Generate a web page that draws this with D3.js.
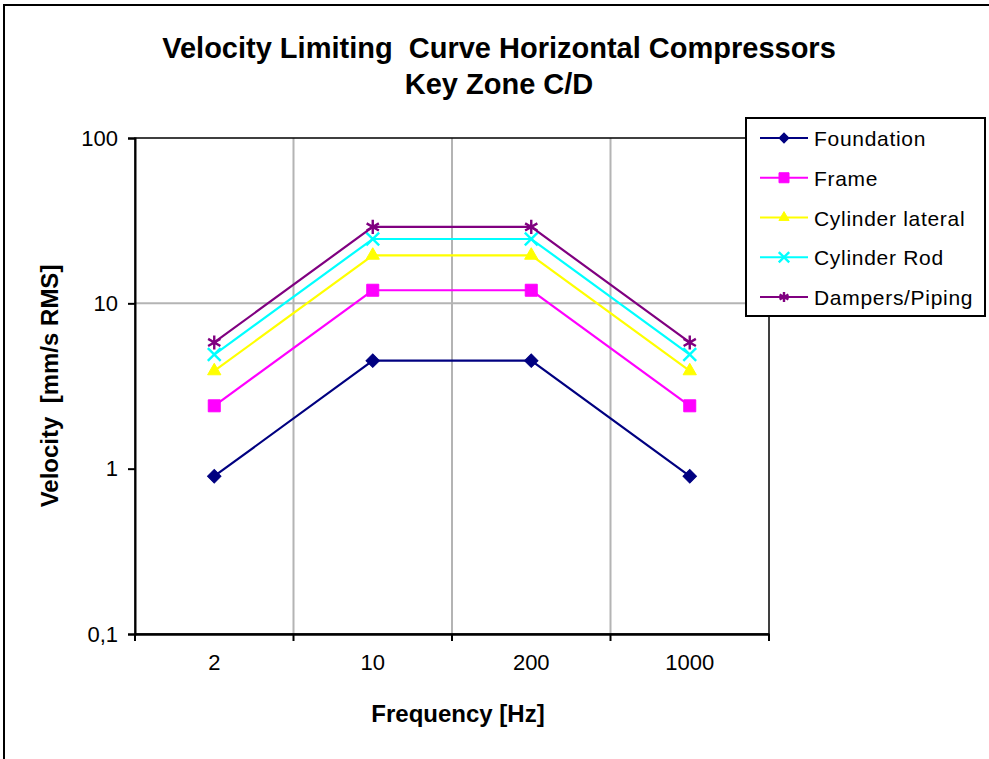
<!DOCTYPE html>
<html>
<head>
<meta charset="utf-8">
<script src="https://cdn.jsdelivr.net/npm/d3@7"></script>
<style>
  html, body { margin: 0; padding: 0; background: #fff; }
  svg { display: block; font-family: "Liberation Sans", Arial, sans-serif; }
</style>
</head>
<body>
<svg id="chart" width="989" height="759"></svg>
<script>
// ---- data ----
const categories = ["2", "10", "200", "1000"];
const seriesNames = ["Foundation", "Frame", "Cylinder lateral", "Cylinder Rod", "Dampers/Piping"];
const foundation = [0.9, 4.5, 4.5, 0.9];
const frame = [2.4, 12, 12, 2.4];
const cylinderLateral = [3.9, 19.5, 19.5, 3.9];
const cylinderRod = [4.9, 24.5, 24.5, 4.9];
const dampersPiping = [5.8, 29, 29, 5.8];
const yTicks = [0.1, 1, 10, 100];
const yTickLabels = ["0,1", "1", "10", "100"];
const gridValues = [10];

const seriesValues = [foundation, frame, cylinderLateral, cylinderRod, dampersPiping];
const colors = ["#000080", "#FF00FF", "#FFFF00", "#00FFFF", "#800080"];
const markerKinds = ["diamond", "square", "triangle", "times", "asterisk"];

const svg = d3.select("#chart");
const W = 989, H = 759;
const plot = { left: 135, right: 769, top: 138, bottom: 634 };

// outer chart border (top & left visible)
svg.append("path").attr("d", `M4,${H} V5 H${W}`).attr("fill", "none").attr("stroke", "#000").attr("stroke-width", 2);

const x = d3.scaleBand().domain(categories).range([plot.left, plot.right]).padding(0);
const y = d3.scaleLog().domain([0.1, 100]).range([plot.bottom, plot.top]);
const cx = c => x(c) + x.bandwidth() / 2;

// gridlines
const g = svg.append("g");
g.selectAll(".vgrid").data(categories.slice(1)).enter().append("line")
  .attr("x1", d => x(d)).attr("x2", d => x(d))
  .attr("y1", plot.top).attr("y2", plot.bottom)
  .attr("stroke", "#b4b4b4").attr("stroke-width", 2);
g.selectAll(".hgrid").data(gridValues).enter().append("line")
  .attr("x1", plot.left).attr("x2", plot.right)
  .attr("y1", d => y(d)).attr("y2", d => y(d))
  .attr("stroke", "#b4b4b4").attr("stroke-width", 2);

// plot border
svg.append("rect").attr("x", plot.left).attr("y", plot.top)
  .attr("width", plot.right - plot.left).attr("height", plot.bottom - plot.top)
  .attr("fill", "none").attr("stroke", "#000").attr("stroke-width", 1.5);

// y axis
const yAxis = d3.axisLeft(y).tickValues(yTicks)
  .tickFormat((d, i) => yTickLabels[i]).tickSize(7).tickPadding(10);
const ya = svg.append("g").attr("transform", `translate(${plot.left},0)`).call(yAxis);
ya.select(".domain").attr("stroke-width", 2);
ya.selectAll(".tick line").attr("stroke-width", 2);
ya.selectAll("text").attr("font-size", 22).attr("fill", "#000")
  .attr("font-family", "Liberation Sans, Arial, sans-serif");

// x axis (labels at band centres, ticks at band edges)
const xAxis = d3.axisBottom(x).tickSize(0).tickPadding(20);
const xa = svg.append("g").attr("transform", `translate(0,${plot.bottom})`).call(xAxis);
xa.select(".domain").attr("stroke-width", 2.5);
xa.selectAll("text").attr("font-size", 22).attr("fill", "#000")
  .attr("font-family", "Liberation Sans, Arial, sans-serif");
const edges = categories.map(c => x(c)).concat([plot.right]);
svg.append("g").selectAll("line").data(edges).enter().append("line")
  .attr("x1", d => d).attr("x2", d => d)
  .attr("y1", plot.bottom).attr("y2", plot.bottom + 7)
  .attr("stroke", "#000").attr("stroke-width", 2);

// marker generator
function markerPath(kind, s) {
  switch (kind) {
    case "diamond": return d3.symbol(d3.symbolSquare, s * s)();
    case "square": return d3.symbol(d3.symbolSquare, s * s)();
    case "triangle": return d3.symbol(d3.symbolTriangle, s * s * 0.45)();
    case "times": return d3.symbol(d3.symbolTimes, s * s * 0.9)();
    case "asterisk": return d3.symbol(d3.symbolAsterisk, s * s * 0.9)();
  }
}
function drawMarker(sel, kind, color, size) {
  const p = sel.append("path").attr("d", markerPath(kind, size));
  if (kind === "diamond") p.attr("transform", "rotate(45)");
  if (kind === "times" || kind === "asterisk") {
    p.attr("fill", "none").attr("stroke", color).attr("stroke-width", 2.4);
  } else {
    p.attr("fill", color).attr("stroke", color).attr("stroke-width", 1);
  }
}

// series
const line = d3.line().x((d, i) => cx(categories[i])).y(d => y(d));
seriesValues.forEach((vals, si) => {
  const sg = svg.append("g");
  sg.append("path").datum(vals).attr("d", line)
    .attr("fill", "none").attr("stroke", colors[si]).attr("stroke-width", 2.2);
  const sizes = [9.5, 12, 13, 11, 12.5];
  vals.forEach((v, i) => {
    const mg = sg.append("g").attr("transform", `translate(${cx(categories[i])},${y(v)})`);
    drawMarker(mg, markerKinds[si], colors[si], sizes[si]);
  });
});

// legend
const lg = svg.append("g");
lg.append("rect").attr("x", 746).attr("y", 118).attr("width", 239).attr("height", 198)
  .attr("fill", "#fff").attr("stroke", "#000").attr("stroke-width", 2);
const legendY = d3.scalePoint().domain(seriesNames).range([138, 297]);
seriesNames.forEach((name, si) => {
  const ly = legendY(name);
  lg.append("line").attr("x1", 760).attr("x2", 808).attr("y1", ly).attr("y2", ly)
    .attr("stroke", colors[si]).attr("stroke-width", 2.2);
  const mg = lg.append("g").attr("transform", `translate(784,${ly})`);
  drawMarker(mg, markerKinds[si], colors[si], [7, 10, 10, 9, 9][si]);
  lg.append("text").attr("x", 814).attr("y", ly + 8).attr("font-size", 21)
    .attr("letter-spacing", 0.7).text(name);
});

// titles
svg.append("text").attr("x", 499).attr("y", 58).attr("text-anchor", "middle")
  .attr("font-size", 29).attr("font-weight", "bold")
  .style("white-space", "pre").text("Velocity Limiting  Curve Horizontal Compressors");
svg.append("text").attr("x", 499).attr("y", 94).attr("text-anchor", "middle")
  .attr("font-size", 29).attr("font-weight", "bold").text("Key Zone C/D");
svg.append("text").attr("x", 458).attr("y", 722).attr("text-anchor", "middle")
  .attr("font-size", 24).attr("font-weight", "bold").text("Frequency [Hz]");
svg.append("text").attr("transform", "translate(58,386) rotate(-90)").attr("text-anchor", "middle")
  .attr("font-size", 24).attr("font-weight", "bold")
  .style("white-space", "pre").text("Velocity  [mm/s RMS]");
</script>
</body>
</html>
